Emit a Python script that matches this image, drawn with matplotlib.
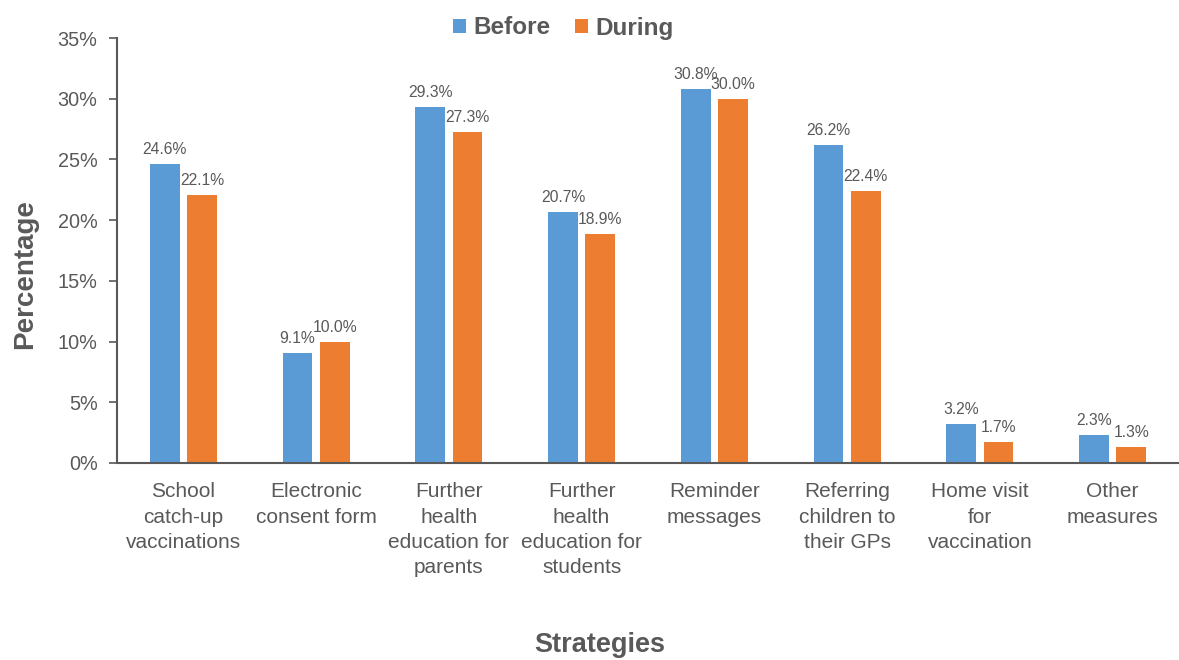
import matplotlib.pyplot as plt
import numpy as np
from matplotlib.ticker import FuncFormatter

plt.rcParams['font.family'] = ['Liberation Sans', 'DejaVu Sans']

strategies = [
    "School\ncatch-up\nvaccinations",
    "Electronic\nconsent form",
    "Further\nhealth\neducation for\nparents",
    "Further\nhealth\neducation for\nstudents",
    "Reminder\nmessages",
    "Referring\nchildren to\ntheir GPs",
    "Home visit\nfor\nvaccination",
    "Other\nmeasures",
]
before = [24.6, 9.1, 29.3, 20.7, 30.8, 26.2, 3.2, 2.3]
during = [22.1, 10.0, 27.3, 18.9, 30.0, 22.4, 1.7, 1.3]

blue = '#5B9BD5'
orange = '#ED7D31'
grey = '#595959'

fig = plt.figure(figsize=(11.79, 6.6), dpi=100)
ax = fig.add_axes([117/1179, 1 - 463/660, 1 - 117/1179, (463 - 38)/660])

x = np.arange(len(strategies))
w = 0.225
off = 0.14
b1 = ax.bar(x - off, before, w, color=blue, label='Before')
b2 = ax.bar(x + off, during, w, color=orange, label='During')

# value labels above each bar
for bars, vals in ((b1, before), (b2, during)):
    for r, v in zip(bars, vals):
        ax.annotate(f'{v:.1f}%', (r.get_x() + r.get_width() / 2, v),
                    xytext=(0, 5), textcoords='offset points',
                    ha='center', va='bottom', fontsize=11.3, color=grey)

ax.set_xlim(-0.5, 7.5)
ax.set_ylim(0, 35)
ax.set_yticks(range(0, 36, 5))
ax.yaxis.set_major_formatter(FuncFormatter(lambda v, p: f'{v:.0f}%'))
ax.set_xticks(x)
ax.set_xticklabels(strategies, linespacing=1.42)
ax.tick_params(axis='x', length=0, pad=14, labelsize=15, labelcolor=grey)
ax.tick_params(axis='y', length=6, width=1.2, color=grey, pad=8,
               labelsize=14.3, labelcolor=grey)

for s in ('top', 'right'):
    ax.spines[s].set_visible(False)
for s in ('left', 'bottom'):
    ax.spines[s].set_color(grey)
    ax.spines[s].set_linewidth(1.5)

fig.legend(handles=[b1, b2], loc='center', bbox_to_anchor=(563/1179, 1 - 28/660),
           ncol=2, frameon=False, handlelength=0.55, handleheight=0.55,
           handletextpad=0.3, columnspacing=1.0,
           prop={'size': 17.5, 'weight': 'bold'}, labelcolor=grey)

fig.text(25/1179, 1 - 274/660, 'Percentage', rotation=90, ha='center', va='center',
         fontsize=20, fontweight='bold', color=grey)
fig.text(600/1179, 1 - 645/660, 'Strategies', ha='center', va='center',
         fontsize=19.5, fontweight='bold', color=grey)

fig.savefig('out.png', dpi=100)
